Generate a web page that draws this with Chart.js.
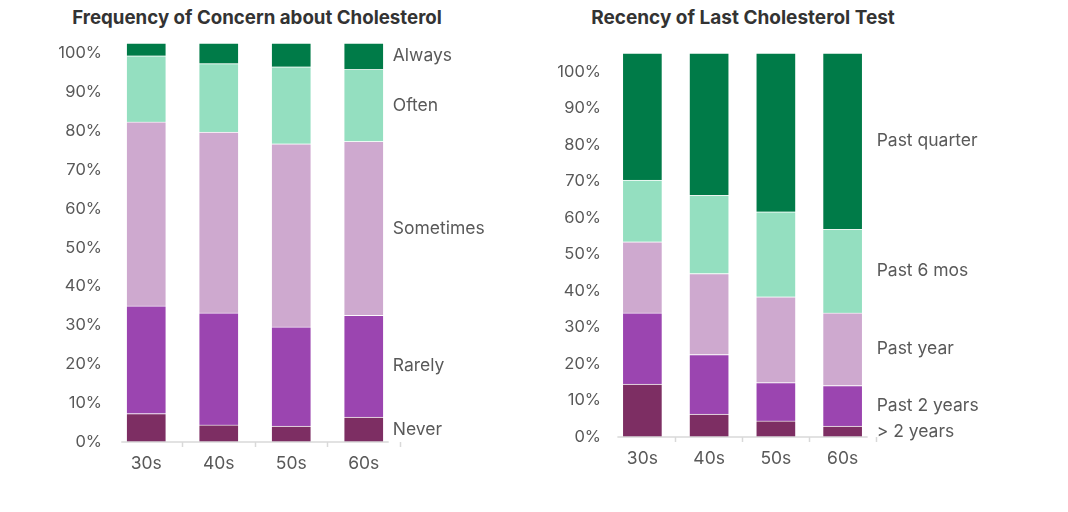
<!DOCTYPE html>
<html>
<head>
<meta charset="utf-8">
<script src="https://cdn.jsdelivr.net/npm/chart.js@4/dist/chart.umd.min.js"></script>
<style>
  html, body { margin: 0; padding: 0; background: #fff; }
  body { width: 1068px; height: 512px; position: relative; overflow: hidden; font-family: Inter, "Noto Sans", sans-serif; }
  .box { position: absolute; top: 0; height: 512px; }
  .title { position: absolute; top: 6px; font-weight: 700; font-size: 18.7px; color: #333; white-space: nowrap; transform: translateX(-50%); }
</style>
</head>
<body>
<div class="title" style="left:257px">Frequency of Concern about Cholesterol</div>
<div class="title" style="left:743px;font-size:19px">Recency of Last Cholesterol Test</div>
<div class="box" style="left:0;width:534px"><canvas id="c1"></canvas></div>
<div class="box" style="left:534px;width:534px"><canvas id="c2"></canvas></div>
<script>
const categories = ["30s", "40s", "50s", "60s"];
const yTicks = [0, 10, 20, 30, 40, 50, 60, 70, 80, 90, 100];

// Frequency of concern (bottom to top)
const concernLabels = ["Never", "Rarely", "Sometimes", "Often", "Always"];
const never     = [7.3, 4.4, 4.1, 6.4];
const rarely    = [27.7, 28.8, 25.5, 26.2];
const sometimes = [47.3, 46.5, 47.1, 44.7];
const often     = [17.0, 17.6, 19.8, 18.5];
const always    = [3.3, 5.3, 6.1, 6.8];

// Recency of last test (bottom to top)
const recencyLabels = ["> 2 years", "Past 2 years", "Past year", "Past 6 mos", "Past quarter"];
const over2Years  = [14.5, 6.3, 4.4, 3.0];
const past2Years  = [19.5, 16.3, 10.5, 11.1];
const pastYear    = [19.5, 22.2, 23.5, 19.9];
const past6Mos    = [16.9, 21.4, 23.3, 22.9];
const pastQuarter = [34.8, 39.0, 43.5, 48.3];

const colors = ["#7D2E63", "#9B45B0", "#CEA9CF", "#94DFC0", "#007B48"];

const sum = arrs => arrs[0].map((_, i) => arrs.reduce((s, a) => s + a[i], 0));

const sideLabels = {
  id: 'sideLabels',
  afterDatasetsDraw(chart, args, opts) {
    const ctx = chart.ctx;
    ctx.save();
    ctx.font = '17.5px Inter, "Noto Sans", sans-serif';
    ctx.fillStyle = '#595959';
    ctx.textBaseline = 'middle';
    ctx.textAlign = 'left';
    chart.data.datasets.forEach((ds, di) => {
      const meta = chart.getDatasetMeta(di);
      const el = meta.data[meta.data.length - 1];
      const y = (el.y + el.base) / 2;
      ctx.fillText(ds.label, el.x + el.width / 2 + opts.gap, y);
    });
    // baseline axis line
    const meta0 = chart.getDatasetMeta(0);
    const first = meta0.data[0], last = meta0.data[meta0.data.length - 1];
    const yb = chart.scales.y.getPixelForValue(0);
    ctx.strokeStyle = '#d9d9d9';
    ctx.lineWidth = 1.5;
    ctx.beginPath();
    ctx.moveTo(first.x - first.width / 2 - 5, yb);
    ctx.lineTo(last.x + last.width / 2 + 5, yb);
    ctx.stroke();
    ctx.restore();
  }
};

function makeChart(id, labels, series, pad, yWidth, gap) {
  const max = sum(series)[0];
  return new Chart(document.getElementById(id), {
    type: 'bar',
    data: {
      labels: categories,
      datasets: series.map((d, i) => ({
        label: labels[i],
        data: d,
        backgroundColor: colors[i],
        borderColor: 'rgba(255,255,255,0.55)',
        borderWidth: 1,
        barThickness: 40
      }))
    },
    options: {
      responsive: true,
      maintainAspectRatio: false,
      animation: false,
      layout: { padding: pad },
      plugins: { legend: { display: false }, tooltip: { enabled: false }, title: { display: false }, sideLabels: { gap } },
      scales: {
        x: {
          stacked: true,
          offset: true,
          border: { display: false },
          grid: {
            offset: true,
            drawOnChartArea: false,
            drawTicks: true,
            tickLength: 5,
            tickWidth: 1.5,
            tickColor: ctx => (ctx.index === 0 || ctx.index >= categories.length) ? 'rgba(0,0,0,0)' : '#d9d9d9',
            color: 'rgba(0,0,0,0)'
          },
          ticks: { color: '#595959', font: { family: 'Inter', size: 17.5 }, padding: 6 },
          afterFit: s => { s.height = 70; }
        },
        y: {
          stacked: true,
          min: 0,
          max: max,
          border: { display: false },
          grid: { display: false, drawTicks: false },
          afterBuildTicks: s => { s.ticks = yTicks.map(v => ({ value: v })); },
          ticks: { color: '#595959', font: { family: 'Inter', size: 16.5 }, padding: 8, callback: v => v + '%' },
          afterFit: s => { s.width = yWidth; }
        }
      }
    },
    plugins: [sideLabels]
  });
}

makeChart('c1', concernLabels, [never, rarely, sometimes, often, always],
  { top: 43, right: 134, bottom: 0, left: 0 }, 110, 9);
makeChart('c2', recencyLabels, [over2Years, past2Years, pastYear, past6Mos, pastQuarter],
  { top: 53, right: 192, bottom: 5, left: 0 }, 75, 14);
</script>
</body>
</html>
